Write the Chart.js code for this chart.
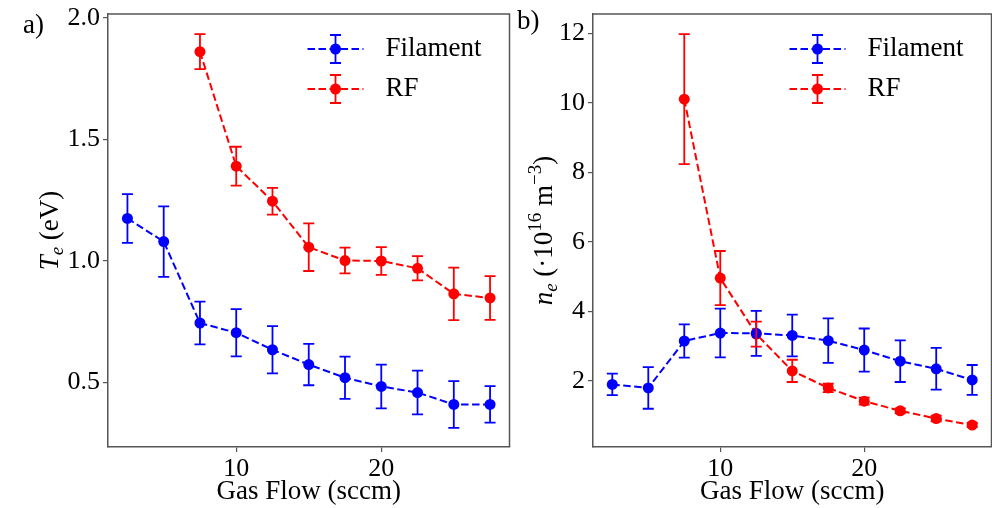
<!DOCTYPE html>
<html>
<head>
<meta charset="utf-8">
<script src="https://cdn.jsdelivr.net/npm/chart.js@4.4.0/dist/chart.umd.min.js"></script>
<style>
  html, body { margin: 0; padding: 0; background: #fff; overflow: hidden; }
  body { width: 992px; height: 508px; position: relative; }
  canvas { position: absolute; top: 0; }
  #chartA { left: 0; }
  #chartB { left: 515px; }
</style>
</head>
<body>
<canvas id="chartA" width="515" height="508"></canvas>
<canvas id="chartB" width="482" height="508"></canvas>
<script>
// gas flow (sccm)
const flow = [2.5, 5, 7.5, 10, 12.5, 15, 17.5, 20, 22.5, 25, 27.5];
const rfFlow = [7.5, 10, 12.5, 15, 17.5, 20, 22.5, 25, 27.5];

// electron temperature (eV)
const teFilament = [1.175, 1.08, 0.745, 0.705, 0.635, 0.574, 0.52, 0.484, 0.459, 0.41, 0.41];
const teFilamentErr = [0.10, 0.145, 0.088, 0.097, 0.097, 0.085, 0.087, 0.09, 0.09, 0.096, 0.075];
const teRf = [1.861, 1.39, 1.246, 1.057, 1.002, 1.0, 0.97, 0.865, 0.848];
const teRfErr = [0.072, 0.08, 0.055, 0.098, 0.053, 0.057, 0.05, 0.108, 0.09];

// electron density (1e16 m^-3)
const neFilament = [1.9, 1.8, 3.15, 3.38, 3.37, 3.31, 3.16, 2.89, 2.57, 2.35, 2.03];
const neFilamentErr = [0.31, 0.6, 0.48, 0.7, 0.65, 0.6, 0.64, 0.62, 0.6, 0.6, 0.43];
const neRf = [10.11, 4.96, 3.35, 2.29, 1.8, 1.42, 1.14, 0.92, 0.73];
const neRfErr = [1.87, 0.78, 0.36, 0.32, 0.12, 0.1, 0.07, 0.08, 0.06];

const flowTicks = [10, 20];
const teTicks = [0.5, 1.0, 1.5, 2.0];
const neTicks = [2, 4, 6, 8, 10, 12];

const BLUE = '#0000ff';
const RED = '#ff0000';
const AXIS = '#555555';
const SERIF = "'Liberation Serif', 'Times New Roman', serif";

function series(label, xs, ys, errs, color) {
  return {
    label: label,
    data: xs.map((x, i) => ({ x: x, y: ys[i] })),
    errors: errs,
    borderColor: color,
    backgroundColor: color,
    borderWidth: 2,
    borderDash: [7.5, 3.5],
    pointRadius: 5.5,
    pointBorderWidth: 0,
    pointBackgroundColor: color,
    tension: 0
  };
}

// vertical error bars with caps, drawn through the y scale
const errorBars = {
  id: 'errorBars',
  afterDatasetsDraw(chart) {
    const ctx = chart.ctx;
    const ys = chart.scales.y;
    chart.data.datasets.forEach((ds, i) => {
      const meta = chart.getDatasetMeta(i);
      ctx.save();
      ctx.strokeStyle = ds.borderColor;
      ctx.lineWidth = 1.8;
      meta.data.forEach((pt, j) => {
        const v = ds.data[j].y, e = ds.errors[j];
        const top = ys.getPixelForValue(v + e);
        const bot = ys.getPixelForValue(v - e);
        ctx.beginPath();
        ctx.moveTo(pt.x, top); ctx.lineTo(pt.x, bot);
        ctx.moveTo(pt.x - 5.5, top); ctx.lineTo(pt.x + 5.5, top);
        ctx.moveTo(pt.x - 5.5, bot); ctx.lineTo(pt.x + 5.5, bot);
        ctx.stroke();
      });
      ctx.restore();
    });
  }
};

// rotated axis title made of pieces (italics, sub/superscripts)
function drawVerticalLabel(ctx, parts, baseX, centerY) {
  ctx.save();
  ctx.translate(baseX, centerY);
  ctx.rotate(-Math.PI / 2);
  ctx.fillStyle = '#000';
  ctx.textBaseline = 'alphabetic';
  ctx.textAlign = 'left';
  let total = 0;
  parts.forEach(p => { ctx.font = p.font; total += ctx.measureText(p.t).width; });
  let x = -total / 2;
  parts.forEach(p => {
    ctx.font = p.font;
    ctx.fillText(p.t, x, p.dy || 0);
    x += ctx.measureText(p.t).width;
  });
  ctx.restore();
}

function makeDecor(letter, letterX, letterY, labelParts, labelX) {
  return {
    id: 'decor',
    afterDraw(chart) {
      const ctx = chart.ctx;
      const a = chart.chartArea;
      ctx.save();
      // top and right spines
      ctx.strokeStyle = AXIS;
      ctx.lineWidth = 1.5;
      ctx.beginPath();
      ctx.moveTo(a.left, a.top); ctx.lineTo(a.right, a.top); ctx.lineTo(a.right, a.bottom);
      ctx.stroke();
      // panel letter
      ctx.fillStyle = '#000';
      ctx.font = '27px ' + SERIF;
      ctx.textBaseline = 'middle';
      ctx.textAlign = 'left';
      ctx.fillText(letter, letterX, letterY);
      // legend
      const lx = a.right - 202;
      chart.data.datasets.forEach((ds, i) => {
        const y = a.top + 35 + i * 40;
        ctx.strokeStyle = ds.borderColor;
        ctx.lineWidth = 2;
        ctx.setLineDash([7.5, 3.5]);
        ctx.beginPath();
        ctx.moveTo(lx, y); ctx.lineTo(lx + 56, y);
        ctx.stroke();
        ctx.setLineDash([]);
        ctx.lineWidth = 1.8;
        ctx.beginPath();
        ctx.moveTo(lx + 28, y - 14); ctx.lineTo(lx + 28, y + 14);
        ctx.moveTo(lx + 22.5, y - 14); ctx.lineTo(lx + 33.5, y - 14);
        ctx.moveTo(lx + 22.5, y + 14); ctx.lineTo(lx + 33.5, y + 14);
        ctx.stroke();
        ctx.fillStyle = ds.borderColor;
        ctx.beginPath();
        ctx.arc(lx + 28, y, 5.5, 0, Math.PI * 2);
        ctx.fill();
        ctx.fillStyle = '#000';
        ctx.font = '27px ' + SERIF;
        ctx.fillText(ds.label, lx + 78, y);
      });
      ctx.restore();
      drawVerticalLabel(ctx, labelParts, labelX, (a.top + a.bottom) / 2);
    }
  };
}

function makeOptions(xMin, xMax, yMin, yMax, yTicks, yWidth, yFmt, padRight) {
  return {
    responsive: false,
    animation: false,
    devicePixelRatio: 1,
    layout: { padding: { top: 14, right: padRight, left: 0, bottom: 0 } },
    plugins: { legend: { display: false }, tooltip: { enabled: false } },
    scales: {
      x: {
        type: 'linear',
        min: xMin, max: xMax,
        afterBuildTicks: s => { s.ticks = flowTicks.map(v => ({ value: v })); },
        afterFit: s => { s.height = 61; s.paddingLeft = 0; s.paddingRight = 0; },
        grid: { drawOnChartArea: false, drawTicks: true, tickLength: 5, color: AXIS, lineWidth: 1.2 },
        border: { display: true, color: AXIS, width: 1.5 },
        ticks: { color: '#000', font: { family: SERIF, size: 26 }, padding: 2, maxRotation: 0 },
        title: {
          display: true, text: 'Gas Flow (sccm)', color: '#000',
          font: { family: SERIF, size: 27 }, padding: { top: 0, bottom: 0 }
        }
      },
      y: {
        type: 'linear',
        min: yMin, max: yMax,
        afterBuildTicks: s => { s.ticks = yTicks.map(v => ({ value: v })); },
        afterFit: s => { s.width = yWidth; s.paddingTop = 0; s.paddingBottom = 0; },
        grid: { drawOnChartArea: false, drawTicks: true, tickLength: 5, color: AXIS, lineWidth: 1.2 },
        border: { display: true, color: AXIS, width: 1.5 },
        ticks: { color: '#000', font: { family: SERIF, size: 26 }, padding: 3, callback: yFmt }
      }
    }
  };
}

const italic = 'italic 27px ' + SERIF;
const italicSmall = 'italic 19px ' + SERIF;
const roman = '27px ' + SERIF;
const small = '19px ' + SERIF;

new Chart(document.getElementById('chartA'), {
  type: 'line',
  data: {
    datasets: [
      series('Filament', flow, teFilament, teFilamentErr, BLUE),
      series('RF', rfFlow, teRf, teRfErr, RED)
    ]
  },
  options: makeOptions(1.16, 28.84, 0.235, 2.016, teTicks, 108, v => v.toFixed(1), 3),
  plugins: [errorBars, makeDecor('a)', 23, 26, [
    { t: 'T', font: italic },
    { t: 'e', font: italicSmall, dy: 5 },
    { t: ' (eV)', font: roman }
  ], 58)]
});

new Chart(document.getElementById('chartB'), {
  type: 'line',
  data: {
    datasets: [
      series('Filament', flow, neFilament, neFilamentErr, BLUE),
      series('RF', rfFlow, neRf, neRfErr, RED)
    ]
  },
  options: makeOptions(1.16, 28.84, 0.1, 12.56, neTicks, 78, v => String(v), 0),
  plugins: [errorBars, makeDecor('b)', 2, 22, [
    { t: 'n', font: italic },
    { t: 'e', font: italicSmall, dy: 5 },
    { t: ' (\u00b710', font: roman },
    { t: '16', font: small, dy: -11 },
    { t: ' m', font: roman },
    { t: '\u22123', font: small, dy: -11 },
    { t: ')', font: roman }
  ], 37)]
});
</script>
</body>
</html>
